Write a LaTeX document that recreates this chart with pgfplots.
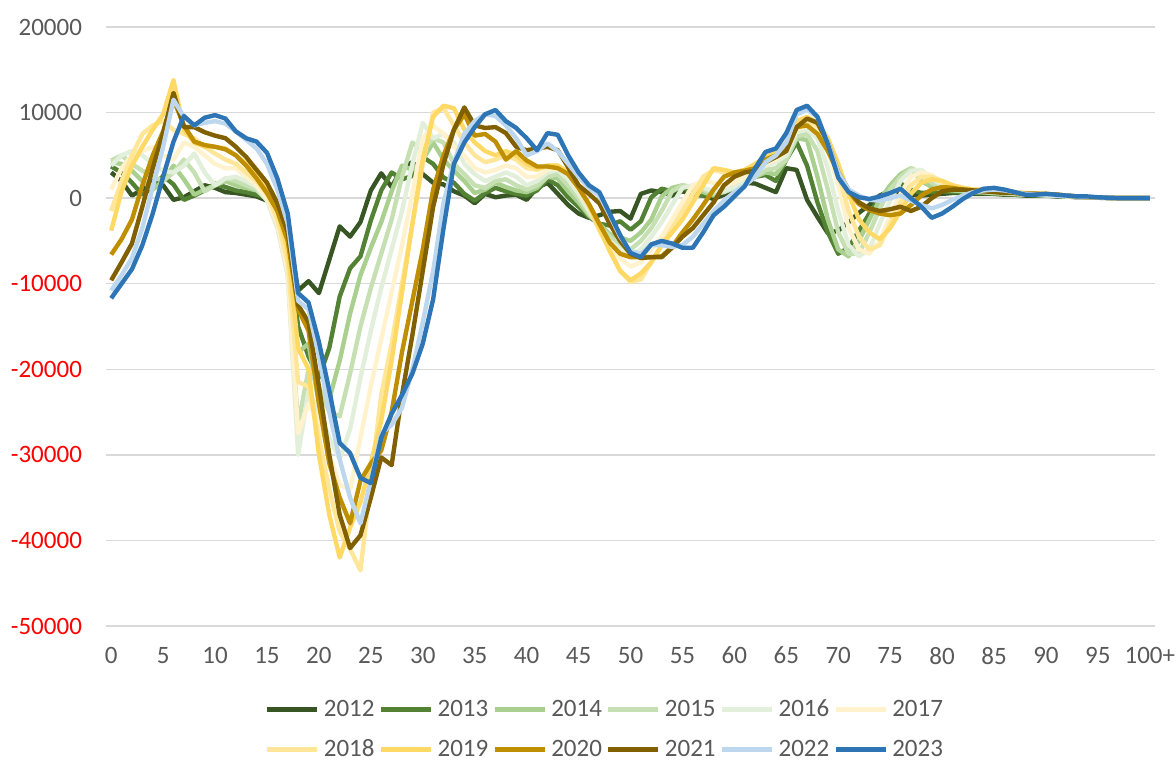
\documentclass[border=0pt]{standalone}
\usepackage{pgfplots}
\pgfplotsset{compat=1.18}
\usepackage{fontspec}
\setmainfont{Carlito}
\definecolor{c2012}{HTML}{375623}
\definecolor{c2013}{HTML}{548235}
\definecolor{c2014}{HTML}{A9D08E}
\definecolor{c2015}{HTML}{C6E0B4}
\definecolor{c2016}{HTML}{E2EFDA}
\definecolor{c2017}{HTML}{FFF2CC}
\definecolor{c2018}{HTML}{FFE699}
\definecolor{c2019}{HTML}{FFD966}
\definecolor{c2020}{HTML}{BF8F00}
\definecolor{c2021}{HTML}{806000}
\definecolor{c2022}{HTML}{BDD7EE}
\definecolor{c2023}{HTML}{2E75B6}
\definecolor{labelgray}{HTML}{595959}
\definecolor{gridgray}{HTML}{D9D9D9}
\definecolor{negred}{HTML}{FF0000}
\begin{document}
\begin{tikzpicture}
\begin{axis}[
 scale only axis, width=524.5pt, height=299.5pt,
 xmin=-0.5, xmax=100.5, ymin=-50000, ymax=20000,
 axis line style={draw=none}, tick style={draw=none},
 ytick={-50000,-40000,-30000,-20000,-10000,0,10000,20000},
 yticklabels={{\color{negred}-50000},{\color{negred}-40000},{\color{negred}-30000},{\color{negred}-20000},{\color{negred}-10000},0,10000,20000},
 xtick={0,5,...,100},
 xticklabels={0,5,10,15,20,25,30,35,40,45,50,55,60,65,70,75,80,85,90,95,100+},
 ymajorgrids, grid style={color=gridgray, line width=0.75pt},
 scaled y ticks=false,
 /pgf/number format/assume math mode=true,
 tick label style={font=\fontsize{12.5}{14}\selectfont, text=labelgray},
 yticklabel style={xshift=-8.5pt},
 xticklabel style={yshift=-7pt},
 every axis plot/.append style={line width=2.2pt, line join=round, mark=none},
 legend columns=6,
 legend image code/.code={\draw[#1, line width=2.5pt] (0pt,0pt) -- (25pt,0pt);},
 legend style={draw=none, fill=none, at={(0.4766,-0.1728)}, anchor=center,
   font=\fontsize{12.5}{14}\selectfont, text=labelgray, row sep=6pt,
   /tikz/every even column/.append style={column sep=0pt}},
 legend cell align=left,
]
\addplot[c2012] table[row sep=\\, header=false, x expr=\coordindex, y index=0] {
3000\\2000\\300\\1000\\2300\\1500\\-200\\100\\800\\1500\\
1200\\700\\600\\400\\200\\-300\\-1500\\-4000\\-10800\\-9700\\
-11100\\-7200\\-3300\\-4500\\-2800\\900\\2900\\1300\\3500\\4200\\
2800\\1800\\1600\\800\\300\\-600\\500\\100\\300\\400\\
-200\\1200\\1800\\500\\-800\\-1800\\-2300\\-2000\\-1600\\-1500\\
-2400\\500\\900\\700\\300\\800\\400\\300\\-100\\400\\
1200\\1800\\1700\\1200\\700\\3500\\3300\\-200\\-2200\\-4100\\
-3800\\-2800\\-1700\\-800\\300\\900\\600\\400\\300\\400\\
500\\600\\600\\500\\500\\500\\400\\400\\300\\300\\
300\\200\\200\\100\\100\\50\\0\\0\\0\\0\\
0\\
};
\addlegendentry{2012}
\addplot[c2013] table[row sep=\\, header=false, x expr=\coordindex, y index=0] {
3700\\3000\\1800\\400\\1200\\2600\\1600\\-200\\300\\900\\
1700\\1300\\900\\700\\400\\0\\-2000\\-6000\\-15000\\-18500\\
-21000\\-17500\\-11500\\-8200\\-6800\\-2600\\900\\3000\\2200\\2600\\
4800\\4000\\2400\\1800\\500\\-300\\600\\1200\\800\\500\\
300\\900\\2200\\1500\\100\\-1000\\-2200\\-3000\\-3200\\-2700\\
-3700\\-2700\\100\\1100\\800\\1200\\700\\300\\400\\700\\
1300\\1700\\2500\\2700\\2000\\4500\\6500\\3800\\-500\\-4000\\
-6500\\-5800\\-3800\\-1800\\0\\1200\\1700\\1000\\600\\700\\
800\\700\\700\\600\\600\\500\\500\\400\\400\\300\\
300\\300\\200\\200\\100\\100\\50\\0\\0\\0\\
0\\
};
\addlegendentry{2013}
\addplot[c2014] table[row sep=\\, header=false, x expr=\coordindex, y index=0] {
4200\\4000\\3200\\2000\\1000\\2000\\3800\\2200\\400\\1000\\
1500\\2000\\1500\\1200\\900\\0\\-2500\\-8000\\-18000\\-17000\\
-24000\\-23500\\-19000\\-13500\\-9000\\-5800\\-2800\\800\\3800\\3300\\
4500\\6500\\4500\\3200\\2000\\600\\1000\\1800\\1300\\900\\
700\\1200\\2500\\2300\\800\\-500\\-2000\\-3000\\-4200\\-4600\\
-5000\\-4000\\-2500\\200\\1200\\1500\\1200\\700\\300\\800\\
1200\\1500\\2500\\3000\\2800\\4500\\7000\\6800\\2500\\-2500\\
-6000\\-6800\\-5000\\-2500\\-200\\1500\\2800\\3500\\2000\\1300\\
1000\\900\\800\\700\\700\\600\\500\\500\\400\\400\\
300\\300\\200\\200\\100\\100\\50\\0\\0\\0\\
0\\
};
\addlegendentry{2014}
\addplot[c2015] table[row sep=\\, header=false, x expr=\coordindex, y index=0] {
4400\\5000\\4000\\3200\\2500\\2000\\3000\\4500\\3000\\800\\
1500\\2300\\2000\\1500\\1000\\-200\\-3000\\-9000\\-26500\\-20000\\
-22000\\-25000\\-25500\\-20500\\-15000\\-10500\\-6500\\-2500\\2500\\6500\\
5500\\7000\\6500\\4000\\2800\\1500\\1200\\2000\\2200\\1500\\
1000\\1500\\2500\\2800\\1500\\0\\-1800\\-3200\\-4500\\-5500\\
-6000\\-5000\\-3500\\-1500\\800\\1500\\1300\\1000\\500\\700\\
1200\\1800\\2500\\3300\\3500\\4500\\7200\\7500\\5500\\1000\\
-4000\\-6500\\-6500\\-4000\\-1200\\1000\\2500\\3500\\3000\\1800\\
1200\\1000\\900\\800\\700\\600\\600\\500\\400\\400\\
300\\300\\200\\200\\100\\100\\50\\0\\0\\0\\
0\\
};
\addlegendentry{2015}
\addplot[c2016] table[row sep=\\, header=false, x expr=\coordindex, y index=0] {
3800\\5000\\5500\\5000\\4000\\3200\\3000\\3800\\5200\\3000\\
1500\\2300\\2500\\2000\\1300\\-300\\-3500\\-9000\\-30000\\-22500\\
-25000\\-28000\\-30500\\-27000\\-21000\\-15500\\-10500\\-6000\\-1500\\4000\\
8800\\7000\\7500\\6500\\4000\\2800\\2000\\2500\\3000\\2500\\
1500\\2000\\3000\\3300\\2200\\500\\-1500\\-3500\\-5000\\-6000\\
-6600\\-6000\\-4500\\-2800\\-800\\1200\\1500\\1200\\800\\800\\
1300\\2000\\3000\\3800\\4200\\5000\\7800\\8000\\7000\\3500\\
-1500\\-5500\\-6800\\-6000\\-3000\\-300\\2000\\3200\\3300\\2300\\
1500\\1200\\1000\\800\\800\\700\\600\\500\\500\\400\\
400\\300\\200\\200\\100\\100\\50\\0\\0\\0\\
0\\
};
\addlegendentry{2016}
\addplot[c2017] table[row sep=\\, header=false, x expr=\coordindex, y index=0] {
1000\\3500\\5000\\5500\\6000\\5000\\4500\\6500\\6000\\5000\\
4000\\3500\\3500\\2500\\1500\\0\\-3000\\-8500\\-27500\\-24000\\
-26000\\-30000\\-33500\\-34000\\-28000\\-22000\\-16500\\-11000\\-5500\\500\\
7000\\8500\\7500\\6000\\5000\\3500\\3000\\3300\\3800\\3500\\
2500\\2500\\3300\\3500\\2800\\1000\\-1000\\-3500\\-5500\\-7000\\
-8000\\-7500\\-6000\\-4500\\-2500\\-500\\1500\\2000\\1800\\1500\\
1800\\2500\\3300\\4000\\4500\\5500\\8000\\8500\\8000\\5500\\
1500\\-3500\\-6000\\-6500\\-5000\\-2000\\500\\2500\\3000\\2700\\
1800\\1300\\1100\\900\\900\\800\\700\\600\\500\\500\\
400\\300\\300\\200\\100\\100\\50\\0\\0\\0\\
0\\
};
\addlegendentry{2017}
\addplot[c2018] table[row sep=\\, header=false, x expr=\coordindex, y index=0] {
-1500\\2000\\5000\\7500\\8500\\9000\\8000\\7500\\7000\\6000\\
5200\\4500\\4000\\3000\\2000\\500\\-2500\\-7500\\-21500\\-22000\\
-28000\\-34000\\-39000\\-41000\\-43500\\-33000\\-23000\\-17000\\-10000\\-3000\\
4000\\10000\\10500\\8500\\6500\\5000\\4200\\4500\\5000\\4500\\
3500\\3300\\3800\\3800\\3000\\1200\\-1000\\-3800\\-6000\\-8500\\
-9800\\-9500\\-7500\\-5500\\-3500\\-1500\\500\\2500\\3300\\3000\\
2500\\3000\\3800\\4500\\5000\\6000\\8500\\9000\\8500\\6500\\
3000\\-1500\\-4500\\-6000\\-5500\\-3000\\-500\\1500\\2500\\2500\\
2000\\1500\\1200\\1000\\1000\\900\\800\\700\\600\\500\\
500\\400\\300\\200\\100\\100\\50\\0\\0\\0\\
0\\
};
\addlegendentry{2018}
\addplot[c2019] table[row sep=\\, header=false, x expr=\coordindex, y index=0] {
-3800\\800\\3800\\6000\\8000\\9800\\13800\\8000\\6500\\6000\\
6000\\5800\\5000\\4000\\3000\\1000\\-1500\\-6000\\-17500\\-20000\\
-30000\\-37000\\-42000\\-38500\\-35500\\-31000\\-26000\\-19000\\-11000\\-3000\\
4500\\9500\\10800\\10500\\8000\\6500\\5500\\5000\\5500\\5000\\
4000\\3500\\3800\\3800\\3000\\1500\\-800\\-3500\\-6200\\-8500\\
-9600\\-8800\\-7500\\-5500\\-4000\\-2500\\-500\\1500\\3500\\3300\\
3000\\3300\\4000\\4800\\5300\\6500\\9000\\9500\\8800\\7000\\
4000\\500\\-2500\\-4000\\-4800\\-3500\\-1500\\500\\1800\\2200\\
2000\\1500\\1200\\1000\\1000\\900\\800\\700\\600\\500\\
500\\400\\300\\200\\100\\100\\50\\0\\0\\0\\
0\\
};
\addlegendentry{2019}
\addplot[c2020] table[row sep=\\, header=false, x expr=\coordindex, y index=0] {
-6600\\-4800\\-2500\\1500\\5000\\7800\\11500\\8500\\6600\\6200\\
6000\\5700\\5000\\3800\\2300\\600\\-1500\\-5000\\-13000\\-15500\\
-24000\\-31000\\-35000\\-38000\\-33000\\-31000\\-29500\\-25000\\-18000\\-12000\\
-6000\\1000\\5000\\8000\\9800\\7300\\7500\\6600\\4500\\5500\\
4400\\3700\\3700\\3500\\2800\\1200\\-700\\-3000\\-5200\\-6500\\
-6900\\-6900\\-6900\\-6800\\-5700\\-4000\\-2500\\-800\\1000\\2500\\
3000\\3200\\3500\\4500\\5000\\6000\\8300\\8500\\7500\\5500\\
3000\\800\\-700\\-1400\\-1800\\-2000\\-1800\\-800\\300\\1000\\
1300\\1200\\1000\\900\\800\\800\\700\\600\\500\\500\\
500\\400\\300\\200\\100\\100\\50\\0\\0\\0\\
0\\
};
\addlegendentry{2020}
\addplot[c2021] table[row sep=\\, header=false, x expr=\coordindex, y index=0] {
-9600\\-7500\\-5300\\-1000\\3500\\7600\\12300\\8300\\8300\\7700\\
7300\\7000\\6000\\4800\\3300\\1800\\-600\\-4000\\-12500\\-14500\\
-22000\\-30000\\-37000\\-40900\\-39400\\-35000\\-30300\\-31200\\-23000\\-16000\\
-8500\\-1000\\4000\\8000\\10600\\8500\\8200\\8300\\7600\\6000\\
5600\\5800\\6000\\5600\\3600\\1500\\500\\-600\\-3000\\-5000\\
-6500\\-7000\\-6900\\-6900\\-5800\\-4500\\-3500\\-2000\\-500\\1500\\
2500\\3000\\3200\\4200\\4800\\5500\\8300\\9300\\8800\\6500\\
3000\\1000\\-500\\-1200\\-1500\\-1300\\-1000\\-1500\\-1000\\0\\
800\\1000\\1000\\900\\800\\700\\600\\600\\500\\500\\
400\\400\\300\\200\\100\\100\\50\\0\\0\\0\\
0\\
};
\addlegendentry{2021}
\addplot[c2022] table[row sep=\\, header=false, x expr=\coordindex, y index=0] {
-10800\\-9000\\-7000\\-3500\\1300\\6000\\11500\\9500\\8500\\8800\\
9000\\8700\\7800\\6800\\5800\\4000\\1000\\-3000\\-12000\\-13000\\
-18500\\-25000\\-30500\\-35000\\-38000\\-33000\\-27500\\-26500\\-24500\\-20000\\
-14500\\-8500\\-500\\4200\\7500\\9000\\9800\\9600\\8500\\7000\\
5000\\5500\\6400\\5500\\4000\\2500\\1200\\300\\-2000\\-4500\\
-6200\\-6500\\-5500\\-5500\\-5700\\-5500\\-4500\\-3000\\-1500\\-300\\
700\\1500\\2500\\4200\\5000\\6500\\9800\\10300\\9500\\6500\\
3000\\1000\\300\\-200\\-300\\0\\300\\-300\\-800\\-1200\\
-800\\-200\\300\\700\\900\\1000\\900\\700\\500\\400\\
400\\300\\300\\200\\100\\100\\50\\0\\0\\0\\
0\\
};
\addlegendentry{2022}
\addplot[c2023] table[row sep=\\, header=false, x expr=\coordindex, y index=0] {
-11700\\-10000\\-8300\\-5500\\-1800\\2500\\6600\\9600\\8500\\9400\\
9700\\9300\\7800\\7000\\6600\\5300\\2300\\-1800\\-11100\\-12200\\
-16800\\-22500\\-28600\\-29800\\-32700\\-33300\\-28000\\-25200\\-23000\\-20500\\
-17000\\-11800\\-3500\\4000\\6500\\8300\\9800\\10300\\9000\\8200\\
7000\\5600\\7600\\7400\\5000\\3000\\1500\\700\\-1800\\-4300\\
-6400\\-6900\\-5400\\-5000\\-5300\\-5800\\-5800\\-4000\\-2000\\-1000\\
200\\1400\\3500\\5400\\5800\\7600\\10300\\10800\\9500\\6300\\
2400\\700\\100\\-100\\200\\600\\1100\\0\\-1000\\-2300\\
-1800\\-1000\\-100\\600\\1100\\1200\\1000\\700\\400\\400\\
500\\400\\300\\200\\200\\100\\50\\0\\0\\0\\
0\\
};
\addlegendentry{2023}
\coordinate (sw) at (rel axis cs:0,0);
\coordinate (ne) at (rel axis cs:1,1);
\end{axis}
\pgfresetboundingbox
\path ([xshift=-53pt,yshift=-69pt]sw) rectangle ([xshift=10.5pt,yshift=13.5pt]ne);
\end{tikzpicture}
\end{document}
